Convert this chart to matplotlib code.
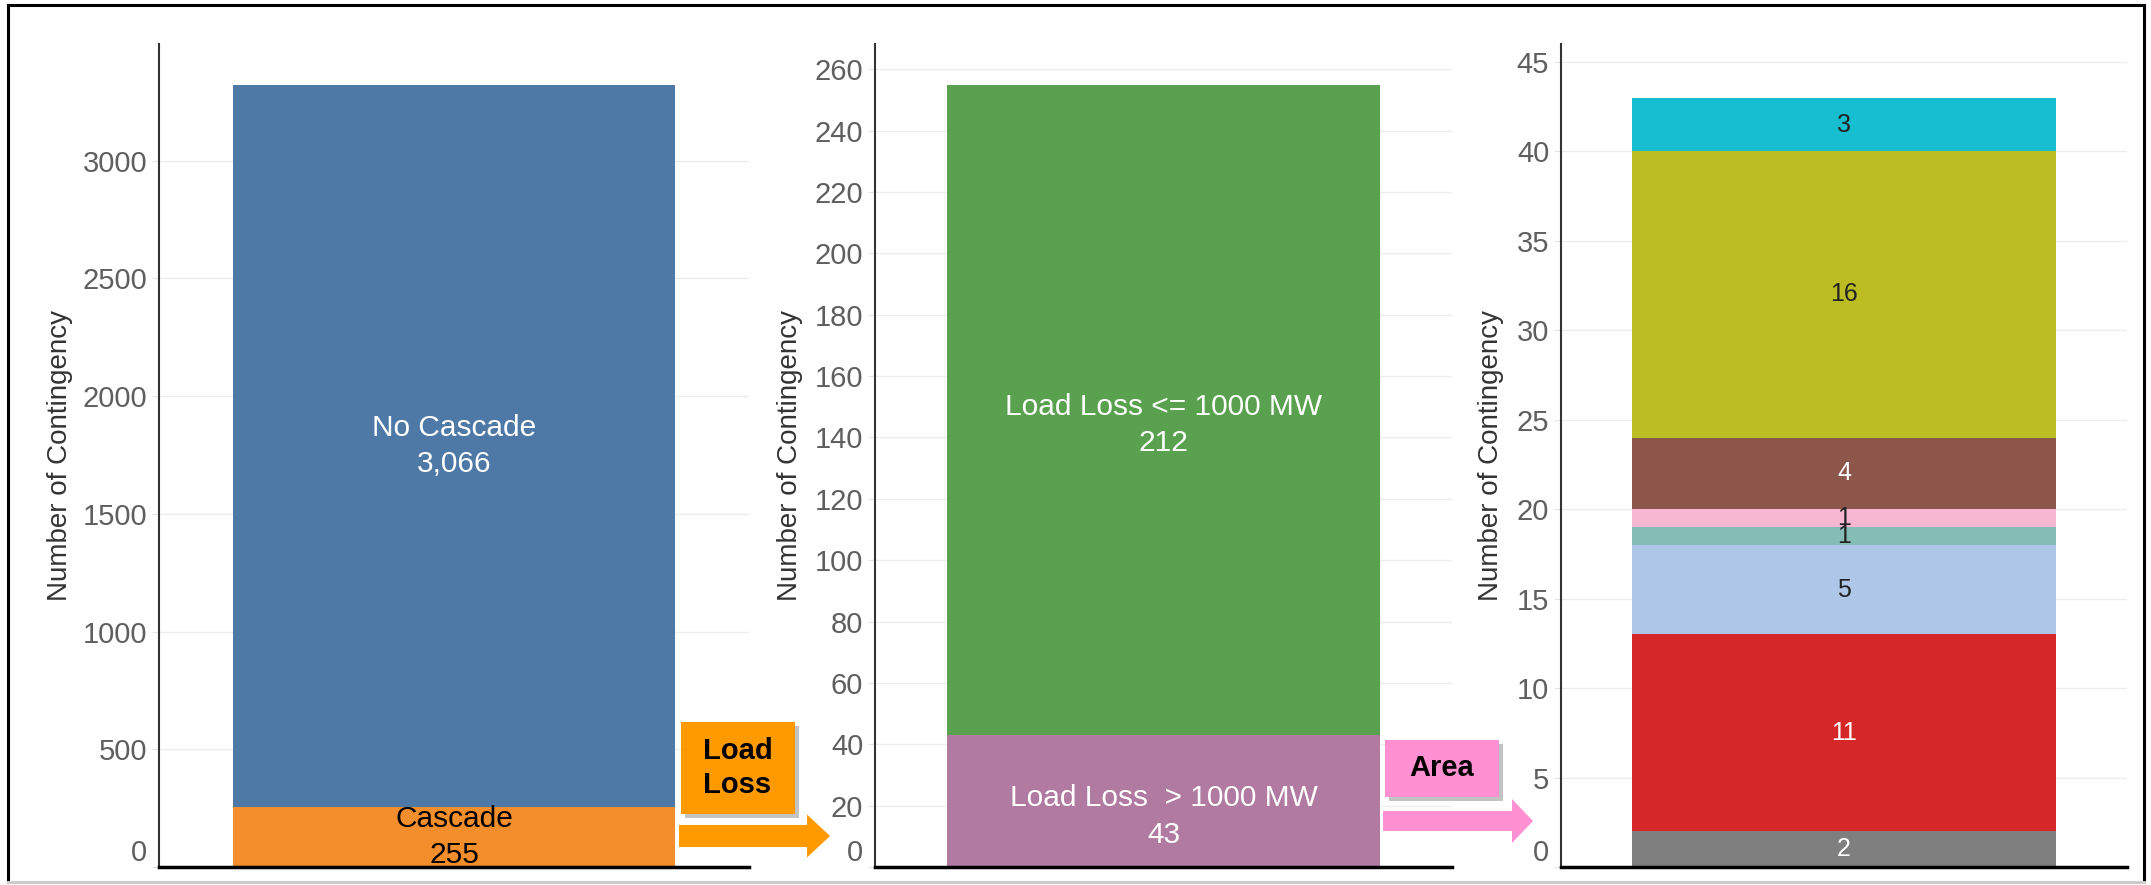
import matplotlib.pyplot as plt
import matplotlib.patheffects as pe
from matplotlib.patches import FancyBboxPatch, FancyArrow
from matplotlib.lines import Line2D

plt.rcParams['font.family'] = ['Liberation Sans', 'DejaVu Sans']

# panel 1: all contingencies
cascade_labels = ['Cascade', 'No Cascade']
cascade_counts = [255, 3066]
cascade_colors = ['#F28E2B', '#4E79A7']
cascade_text_colors = ['black', 'white']

# panel 2: cascading contingencies split by load loss
loss_labels = ['Load Loss  > 1000 MW', 'Load Loss <= 1000 MW']
loss_counts = [43, 212]
loss_colors = ['#B07AA1', '#59A14F']
loss_text_colors = ['white', 'white']

# panel 3: load loss > 1000 MW split by area
area_counts = [2, 11, 5, 1, 1, 4, 16, 3]
area_colors = ['#7F7F7F', '#D62728', '#AEC7E8', '#86BCB6',
               '#F7B6D2', '#8C564B', '#BCBD22', '#17BECF']
area_text_colors = ['white', 'white', '#222222', '#222222',
                    '#222222', 'white', '#222222', '#222222']

ticks_1 = list(range(0, 3001, 500))
ticks_2 = list(range(0, 261, 20))
ticks_3 = list(range(0, 46, 5))

W, H = 2151, 885


def px(x, y):
    # image pixel -> figure fraction
    return x / W, 1 - y / H


def style_axis(ax, ticks, ymax, label_x):
    ax.set_xlim(-0.5, 0.5)
    ax.set_ylim(0, ymax)
    ax.set_xticks([])
    ax.set_yticks(ticks, [str(t) for t in ticks])
    ax.get_yticklabels()[0].set_verticalalignment('bottom')
    ax.tick_params(axis='y', length=5, color='#e4e4e4', pad=3.5,
                   labelsize=21, labelcolor='#5f5f5f')
    ax.yaxis.grid(True, color='#ededed', lw=1)
    ax.set_axisbelow(True)
    for s in ['top', 'right']:
        ax.spines[s].set_visible(False)
    ax.spines['left'].set_color('#333333')
    ax.spines['left'].set_linewidth(1.5)
    ax.spines['bottom'].set_color('black')
    ax.spines['bottom'].set_linewidth(2.5)
    ax.set_ylabel('Number of Contingency', fontsize=20, color='#333333')
    ax.yaxis.set_label_coords(label_x, 0.5)


def stack(ax, counts, colors, texts, text_colors, size, dy=0):
    bottom = 0
    for v, c, t, tc in zip(counts, colors, texts, text_colors):
        ax.bar(0, v, bottom=bottom, width=0.75, color=c, zorder=2)
        ax.annotate(t, (0, bottom + v / 2), xytext=(0, dy), textcoords='offset points',
                    ha='center', va='center', color=tc, fontsize=size,
                    linespacing=1.4, zorder=3)
        bottom += v


fig = plt.figure(figsize=(W / 100, H / 100), dpi=100)
bot, top = 1 - 867 / H, 1 - 44 / H
ax1 = fig.add_axes([159 / W, bot, 590 / W, top - bot])
ax2 = fig.add_axes([875 / W, bot, 577 / W, top - bot])
ax3 = fig.add_axes([1561 / W, bot, 566 / W, top - bot])

stack(ax1, cascade_counts, cascade_colors,
      [f'{l}\n{v:,}' for l, v in zip(cascade_labels, cascade_counts)],
      cascade_text_colors, 21.5)
style_axis(ax1, ticks_1, 3496, -0.146)

stack(ax2, loss_counts, loss_colors,
      [f'{l}\n{v}' for l, v in zip(loss_labels, loss_counts)],
      loss_text_colors, 21.5, dy=-11)
style_axis(ax2, ticks_2, 268.2, -0.125)

stack(ax3, area_counts, area_colors, [str(v) for v in area_counts],
      area_text_colors, 18)
style_axis(ax3, ticks_3, 46.0, -0.101)

# callout boxes with arrows between panels
shadow = [pe.SimplePatchShadow(offset=(3, -3), shadow_rgbFace='#888888', alpha=0.5), pe.Normal()]
callouts = [
    ('Load\nLoss', '#FF9900', (681, 722, 795, 814), (679, 836, 807, 830, 22, 43)),
    ('Area', '#FF91D2', (1385, 740, 1499, 797), (1383, 821, 1512, 1533, 20, 44)),
]
for text, col, box, arr in callouts:
    x0, y0 = px(box[0], box[3])
    x1, y1 = px(box[2], box[1])
    fig.add_artist(FancyBboxPatch((x0, y0), x1 - x0, y1 - y0, boxstyle='square,pad=0',
                                  transform=fig.transFigure, fc=col, ec='none',
                                  path_effects=shadow))
    fig.text((x0 + x1) / 2, (y0 + y1) / 2, text, ha='center', va='center',
             multialignment='left', fontsize=21, fontweight='bold', color='black',
             linespacing=1.25)
    ax_, ay, hx, tip, bw, hw = arr
    sx, sy = px(ax_, ay)
    fig.add_artist(FancyArrow(sx, sy, (tip - ax_) / W, 0, width=bw / H,
                              head_width=hw / H, head_length=(tip - hx) / W,
                              length_includes_head=True, transform=fig.transFigure,
                              fc=col, ec='none'))

# outer frame
for (xa, ya), (xb, yb), c in [((8, 4.5), (2144, 4.5), 'black'), ((8, 4.5), (8, 882), 'black'),
                              ((2144, 4.5), (2144, 882), 'black'), ((8, 882), (2144, 882), '#cccccc')]:
    p, q = px(xa, ya), px(xb, yb)
    fig.add_artist(Line2D([p[0], q[0]], [p[1], q[1]], transform=fig.transFigure, color=c, lw=2.2))

fig.savefig('out.png', dpi=100)
